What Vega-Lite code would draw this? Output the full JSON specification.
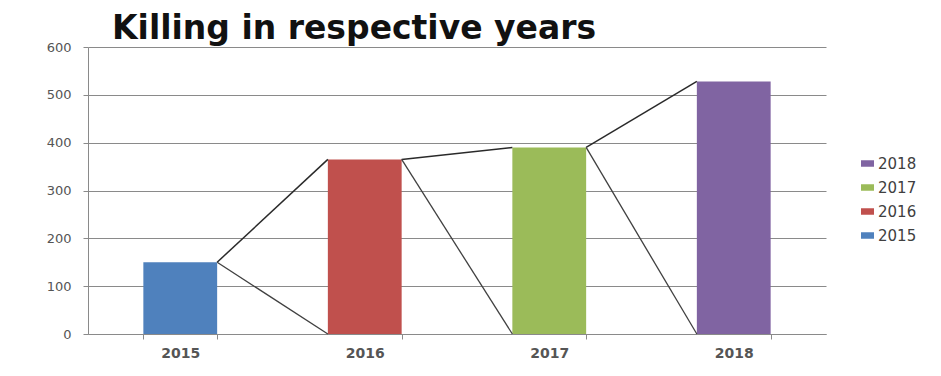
{
  "$schema": "https://vega.github.io/schema/vega-lite/v6.json",
  "width": 738,
  "height": 287,
  "autosize": "none",
  "padding": {"left": 88, "top": 47, "right": 115, "bottom": 42},
  "background": "white",
  "title": {
    "text": "Killing in respective years",
    "font": "DejaVu Sans",
    "fontWeight": "bold",
    "fontSize": 33,
    "color": "#111111",
    "anchor": "start",
    "frame": "group",
    "dx": 24,
    "offset": -5
  },
  "datasets": {
    "bars": [
      {"year": "2015", "value": 150},
      {"year": "2016", "value": 365},
      {"year": "2017", "value": 390},
      {"year": "2018", "value": 528}
    ],
    "links": [
      {"from": "2015", "to": "2016", "from_value": 150, "to_value": 365},
      {"from": "2016", "to": "2017", "from_value": 365, "to_value": 390},
      {"from": "2017", "to": "2018", "from_value": 390, "to_value": 528}
    ]
  },
  "config": {
    "view": {"stroke": null},
    "axis": {
      "labelFont": "DejaVu Sans",
      "labelColor": "#555555",
      "domainColor": "#8a8a8a",
      "tickColor": "#8a8a8a",
      "gridColor": "#8a8a8a",
      "title": null
    }
  },
  "layer": [
    {
      "data": {"name": "bars"},
      "mark": {"type": "bar"},
      "encoding": {
        "x": {
          "field": "year",
          "type": "nominal",
          "scale": {"domain": ["2015", "2016", "2017", "2018"], "paddingInner": 0.6, "paddingOuter": 0.3},
          "axis": {
            "labelAngle": 0,
            "labelFontSize": 14,
            "labelFontWeight": "bold",
            "labelPadding": 7,
            "tickBand": "extent",
            "tickSize": 5,
            "title": null
          }
        },
        "y": {
          "field": "value",
          "type": "quantitative",
          "scale": {"domain": [0, 600], "nice": false},
          "axis": {
            "values": [0, 100, 200, 300, 400, 500, 600],
            "labelFontSize": 13,
            "labelPadding": 12,
            "tickSize": 5,
            "grid": true,
            "title": null
          }
        },
        "color": {
          "field": "year",
          "type": "nominal",
          "scale": {
            "domain": ["2018", "2017", "2016", "2015"],
            "range": ["#8064A2", "#9BBB59", "#C0504D", "#4F81BD"]
          },
          "legend": {
            "title": null,
            "orient": "none",
            "legendX": 772,
            "legendY": 109,
            "symbolType": "M-1,-0.5H1V0.5H-1Z",
            "symbolSize": 169,
            "symbolStrokeWidth": 0,
            "labelFont": "DejaVu Sans",
            "labelFontSize": 15,
            "labelColor": "#404040",
            "labelOffset": 3,
            "rowPadding": 8
          }
        }
      }
    },
    {
      "data": {"name": "links"},
      "mark": {"type": "rule", "color": "#2a2a2a", "strokeWidth": 1.5},
      "encoding": {
        "x": {"field": "from", "type": "nominal", "bandPosition": 1},
        "x2": {"field": "to", "bandPosition": 0},
        "y": {"field": "from_value", "type": "quantitative"},
        "y2": {"field": "to_value"}
      }
    },
    {
      "data": {"name": "links"},
      "mark": {"type": "rule", "color": "#404040", "strokeWidth": 1.3},
      "encoding": {
        "x": {"field": "from", "type": "nominal", "bandPosition": 1},
        "x2": {"field": "to", "bandPosition": 0},
        "y": {"field": "from_value", "type": "quantitative"},
        "y2": {"datum": 0}
      }
    }
  ]
}
